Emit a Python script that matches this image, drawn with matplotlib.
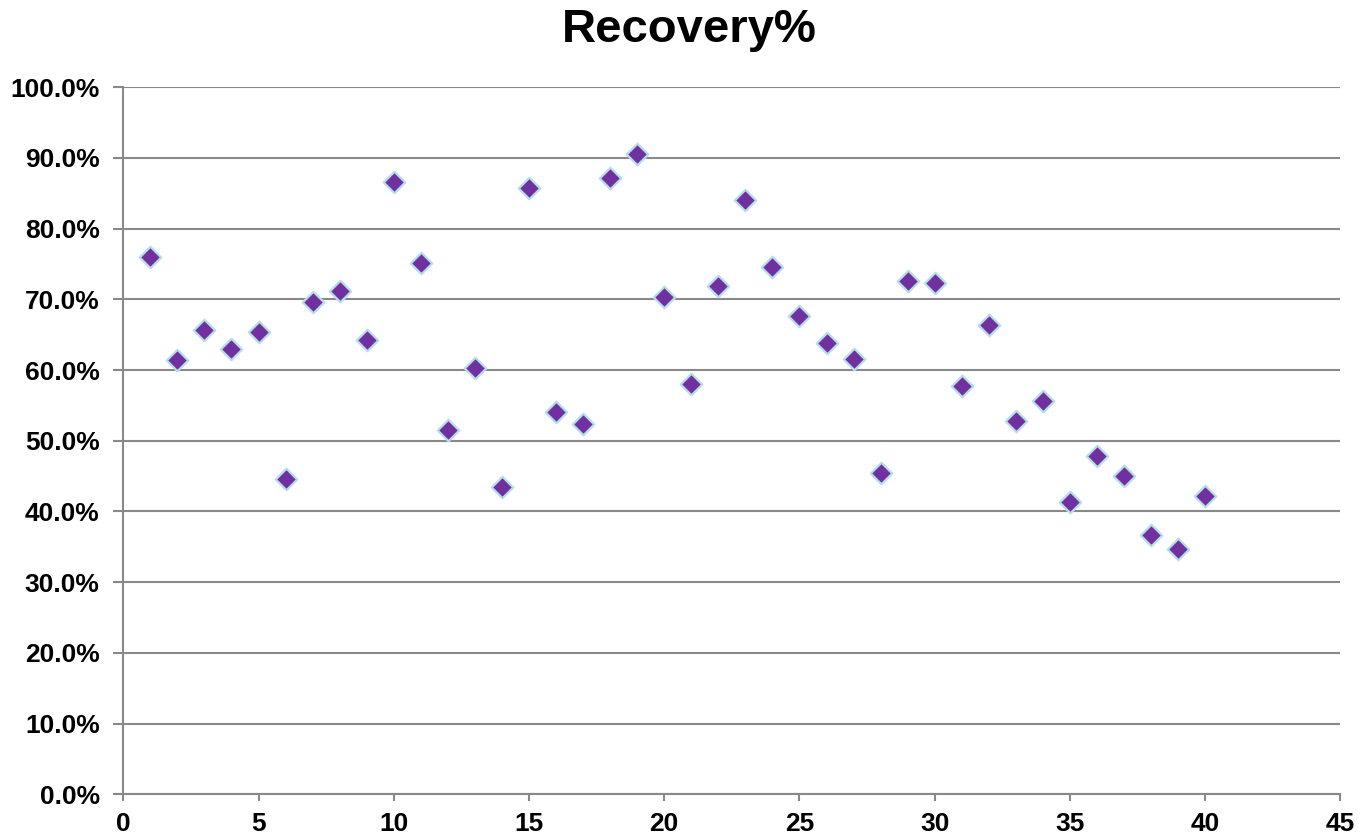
import matplotlib
matplotlib.use("Agg")
import matplotlib.pyplot as plt
from matplotlib.ticker import FuncFormatter, MultipleLocator

x_values = list(range(1, 41))
recovery_pct = [76.0, 61.4, 65.6, 63.0, 65.4, 44.6, 69.6, 71.2, 64.2, 86.6,
                75.1, 51.5, 60.3, 43.5, 85.8, 54.1, 52.4, 87.1, 90.6, 70.4,
                58.0, 71.9, 84.1, 74.6, 67.7, 63.8, 61.5, 45.5, 72.6, 72.3,
                57.8, 66.4, 52.8, 55.6, 41.4, 47.8, 45.0, 36.7, 34.7, 42.2]
title = "Recovery%"

plt.rcParams['font.family'] = ['Liberation Sans', 'DejaVu Sans']

fig = plt.figure(figsize=(13.65, 8.39), dpi=100)
ax = fig.add_axes([0.0903, 0.0533, 0.8917, 0.8427])

ax.scatter(x_values, [v / 100 for v in recovery_pct], marker='D', s=120,
           facecolor='#7030A0', edgecolor='#B7DEE8', linewidths=1.6, zorder=3)

ax.set_xlim(0, 45)
ax.set_ylim(0, 1.0)
ax.xaxis.set_major_locator(MultipleLocator(5))
ax.yaxis.set_major_locator(MultipleLocator(0.1))
ax.yaxis.set_major_formatter(FuncFormatter(lambda v, p: f"{v*100:.1f}%"))

ax.grid(axis='y', color='#898989', linewidth=1.5, zorder=0)
ax.set_axisbelow(True)
for s in ['top', 'right']:
    ax.spines[s].set_visible(False)
for s in ['left', 'bottom']:
    ax.spines[s].set_color('#898989')
    ax.spines[s].set_linewidth(1.5)

ax.tick_params(axis='y', colors='#898989', width=1.5, length=7, direction='out',
               labelcolor='black', labelsize=19, pad=10)
ax.tick_params(axis='x', colors='#898989', width=1.5, length=5, direction='out',
               labelcolor='black', labelsize=19, pad=8)
for lbl in ax.get_xticklabels() + ax.get_yticklabels():
    lbl.set_fontweight('bold')

fig.text(0.505, 0.964, title, ha='center', va='center', fontsize=34, fontweight='bold')

fig.savefig("out.png", dpi=100)
